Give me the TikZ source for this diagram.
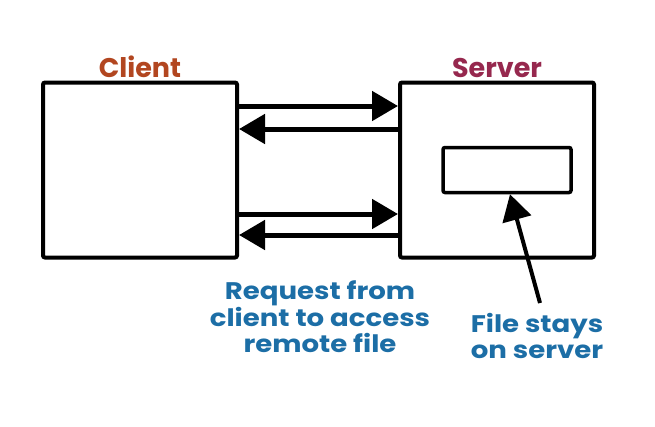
\documentclass[tikz,border=0pt]{standalone}
\usepackage{fontspec}
\setmainfont{Poppins}
\newfontfamily\notefont{Poppins}[FakeStretch=1.15]
\usepackage{tikz}
\usetikzlibrary{positioning, arrows.meta}
\definecolor{clientred}{RGB}{178,70,32}
\definecolor{serverred}{RGB}{150,40,78}
\definecolor{noteblue}{RGB}{28,110,166}
\tikzset{
    ->, % every connector is directed
    >={Triangle[length=26pt,width=29pt]}, % large filled arrow heads
    box/.style={draw, line width=4pt, rounded corners=2pt, minimum width=194pt, minimum height=175pt}, % client and server machines
    file/.style={draw, line width=3.5pt, rounded corners=2pt, minimum width=128pt, minimum height=45pt}, % the remote file
    title/.style={font=\bfseries\fontsize{27}{30}\selectfont}, % headings over the boxes
    note/.style={font=\notefont\bfseries\fontsize{24}{26.5}\selectfont, text=noteblue, align=center}, % blue notes
    link/.style={line width=5pt}, % request and reply arrows
}

\begin{document}
\begin{tikzpicture}[x=1pt, y=-1pt]
    \useasboundingbox (0,0) rectangle (655,426);
    \node[box] (client) at (140,170) {};
    \node[box] (server) at (497,170) {};
    \node[file] (remote) at (507,170) {};
    \node[title, text=clientred, above=-1pt of client] (clientlbl) {Client};
    \node[title, text=serverred, above=-1pt of server] (serverlbl) {Server};
    \node[note] (request) at (320,317) {Request from\\client to access\\remote file};
    \node[note] (stays) at (537,336) {File stays\\on server};
    \coordinate (tail) at (540,303);
    \draw[link] ([yshift=64pt]client.east) -- ([yshift=64pt]server.west);
    \draw[link] ([yshift=41pt]server.west) -- ([yshift=41pt]client.east);
    \draw[link] ([yshift=-44pt]client.east) -- ([yshift=-44pt]server.west);
    \draw[link] ([yshift=-65pt]server.west) -- ([yshift=-65pt]client.east);
    \draw[line width=4pt] (tail) -- ([xshift=3pt]remote.south);
\end{tikzpicture}
\end{document}
